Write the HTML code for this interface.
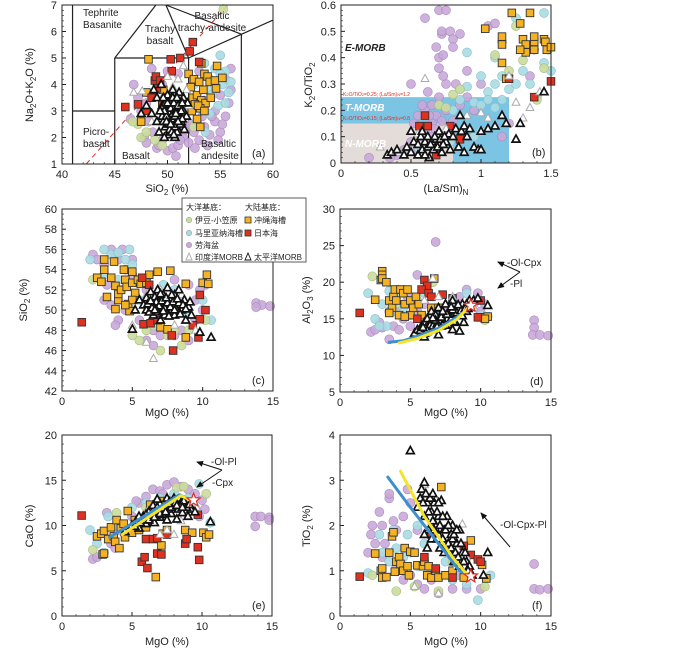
<!DOCTYPE html>
<html><head><meta charset="utf-8"><style>
html,body{margin:0;padding:0;background:#fff;}
svg{display:block;font-family:"Liberation Sans","Noto Sans CJK SC",sans-serif;}
</style></head><body>
<svg id="chart" width="700" height="655" viewBox="0 0 700 655" xmlns="http://www.w3.org/2000/svg"></svg>
<script>
// ---------- DATA ----------
const aPurple=[[46.5,2.7],[46.8,4.0],[47.5,3.0],[47.8,2.0],[48,1.8],[48.5,4.6],[48.6,2.2],[49,1.6],[49.5,1.9],[49,4.2],[50,1.5],[50.5,1.6],[51,1.7],[51.5,2.0],[52,1.8],[52.5,2.2],[53,1.9],[53.5,2.4],[54,2.1],[54.5,2.6],[55,2.2],[55.5,2.8],[55.8,3.3],[55.5,4.2],[56,4.6],[54.5,3.0],[53.5,3.4],[52,3.0],[51,4.4],[50,4.5],[49.5,4.0],[53,4.5],[54.2,2.8],[52.8,2.6],[51.7,2.3],[47.2,3.5],[48,3.3],[56,3.8],[55,3.6],[53.8,1.7],[50.8,1.3],[52.6,1.6],[54.8,1.9],[48.2,2.6],[49.2,1.7],[51.2,1.9],[52.2,2.5],[53.3,2.8],[55.2,2.5]];
const aCyan=[[53.5,4.8],[54.5,4.6],[55,5.1],[55.5,4.5],[54,4.2],[55.2,4.0],[55.8,3.7],[53.8,3.8],[54.8,3.2],[53,3.3],[52.5,4.0],[55.5,3.3],[56,4.1],[54,2.9],[52.8,2.5],[53.6,2.2],[54.2,3.6],[55,4.4]];
const aGreen=[[47.5,2.0],[48,2.2],[48.8,1.9],[49.5,1.7],[47.2,2.5],[52.5,2.4],[55.3,6.85],[46.7,2.6]];
const aOrange=[[48.2,4.95],[52,4.4],[52.2,3.9],[52.5,4.2],[53,4.1],[53.5,4.4],[53.2,4.8],[53.8,4.3],[54,4.1],[54.5,4.15],[54.7,4.7],[55.2,4.25],[54.6,3.85],[52.4,3.5],[52.8,3.6],[53.2,3.4],[53.4,3.8],[53.6,3.3],[54.1,3.5],[52.3,3.0],[52.6,3.25],[53.1,3.1],[53.1,2.4],[52.9,3.2],[53.5,3.0],[47.5,2.6],[48,3.7],[49.6,3.8],[52.8,2.7]];
const aRed=[[46,3.15],[47.2,3.25],[48,3.0],[48.5,3.5],[49,3.85],[48.8,4.15],[48.9,4.3],[50.4,4.5],[50.3,4.95],[51.2,5.0],[52.1,5.25],[52.4,5.6],[53,4.85],[49.3,4.15],[49.5,3.3]];
const aGreyTri=[[46.8,3.7],[47.6,3.75],[50,4.3],[51.5,4.7],[51,4.2],[49.5,3.5],[51.8,3.8],[52,3.2],[50.5,3.9],[48.5,2.6]];
const aBlackTri=[[47.5,2.9],[48,3.2],[48.5,2.9],[49,3.5],[49,2.6],[49.5,3.2],[49.5,2.8],[49.8,2.4],[50,3.6],[50,3.0],[50,2.6],[50.2,3.3],[50.3,2.8],[50.5,2.4],[50.5,3.8],[50.6,3.1],[50.8,2.7],[50.8,3.4],[51,2.9],[51,2.3],[51.2,3.2],[51.3,2.6],[51.5,3.0],[51.5,3.5],[51.8,2.8],[51.6,2.3],[49.2,2.2],[50.1,2.1],[50.7,2.0],[48.7,3.8],[49.4,4.0],[51.9,3.3],[50.4,3.5],[49.7,2.0],[50.9,2.2],[51.1,3.7],[50.2,2.9],[50.6,2.6],[50.9,3.0],[49.8,3.3],
 [49.6,2.6],[49.9,2.8],[50.1,2.5],[50.3,3.1],[50.4,2.7],[50.5,2.9],[50.6,3.3],[50.7,2.4],[50.8,3.0],[50.9,2.6],[51.0,3.2],[51.1,2.8],[51.2,2.5],[51.3,3.0],[51.4,2.7],[50.0,3.3],[50.2,2.3],[50.5,3.5],[50.7,2.8],[50.9,3.5],[49.7,3.0],[49.9,2.6],[50.4,2.2],[50.6,2.1],[51.0,2.6],[51.4,3.3],[49.3,3.0],[49.6,3.5],[50.3,2.5],[50.8,2.9]];

const bPurple=[[0.2,0.02],[0.5,0.3],[0.6,0.55],[0.65,0.1],[0.7,0.58],[0.72,0.49],[0.75,0.58],[0.72,0.5],[0.68,0.44],[0.7,0.4],[0.73,0.41],[0.7,0.36],[0.78,0.5],[0.8,0.47],[0.8,0.44],[0.85,0.49],[0.75,0.3],[0.6,0.2],[0.55,0.18],[0.52,0.15],[0.6,0.12],[0.65,0.22],[0.7,0.25],[0.5,0.08],[0.45,0.05],[0.4,0.03],[0.55,0.05],[0.65,0.15],[0.68,0.18],[0.75,0.2],[0.8,0.16],[0.85,0.22],[0.9,0.25],[0.78,0.12],[0.95,0.2],[1.0,0.3],[1.05,0.52],[1.1,0.53],[1.35,0.33],[1.38,0.43],[1.15,0.1],[1.2,0.15],[0.6,0.09],[0.7,0.06],[0.35,0.02],[0.62,0.27],[0.82,0.3],[0.9,0.35],[0.73,0.33],[0.58,0.22],[0.63,0.18],[0.67,0.13],[0.72,0.16]];
const bCyan=[[0.9,0.42],[1.45,0.57],[1.1,0.4],[1.0,0.33],[1.05,0.27],[1.1,0.3],[1.15,0.33],[1.2,0.28],[1.25,0.3],[1.3,0.35],[1.35,0.3],[1.4,0.25],[1.45,0.38],[1.5,0.35],[0.85,0.24],[0.95,0.23],[1.0,0.22],[1.05,0.24],[1.1,0.21],[1.15,0.24],[0.85,0.28],[0.9,0.29],[0.95,0.1],[1.0,0.12],[0.8,0.2],[0.78,0.08],[0.55,0.06],[1.25,0.55],[1.48,0.43]];
const bGreen=[[0.7,0.22],[0.75,0.21],[0.8,0.26],[0.85,0.28],[1.1,0.41],[1.15,0.46],[1.2,0.35],[1.25,0.52],[1.3,0.39],[1.4,0.24],[1.45,0.36]];
const bOrange=[[1.03,0.51],[1.15,0.45],[1.15,0.48],[1.15,0.38],[1.18,0.32],[1.22,0.57],[1.28,0.53],[1.3,0.47],[1.3,0.43],[1.32,0.42],[1.32,0.45],[1.35,0.57],[1.38,0.46],[1.38,0.48],[1.38,0.43],[1.45,0.47],[1.46,0.46],[1.47,0.43],[1.5,0.44],[1.28,0.43]];
const bRed=[[0.56,0.14],[0.62,0.14],[0.78,0.14],[0.85,0.09],[1.2,0.32],[1.38,0.25],[1.5,0.31],[0.68,0.03],[0.6,0.18]];
const bGreyTri=[[0.28,0.06],[0.6,0.32],[0.75,0.13],[0.9,0.18],[1.0,0.19],[1.05,0.17],[1.2,0.33],[1.25,0.23],[1.3,0.17],[1.35,0.21],[1.42,0.27],[0.42,0.04],[0.55,0.11]];
const bBlackTri=[[0.33,0.03],[0.36,0.04],[0.4,0.05],[0.45,0.03],[0.47,0.06],[0.5,0.04],[0.5,0.12],[0.52,0.08],[0.55,0.07],[0.55,0.03],[0.57,0.1],[0.58,0.05],[0.6,0.08],[0.62,0.06],[0.62,0.1],[0.63,0.02],[0.65,0.08],[0.66,0.05],[0.68,0.09],[0.7,0.07],[0.72,0.1],[0.72,0.04],[0.75,0.08],[0.77,0.11],[0.78,0.05],[0.8,0.1],[0.82,0.13],[0.84,0.06],[0.86,0.12],[0.88,0.14],[0.9,0.1],[0.92,0.13],[0.95,0.06],[0.98,0.05],[1.0,0.05],[1.0,0.12],[1.05,0.13],[1.1,0.14],[1.15,0.18],[1.18,0.15],[1.25,0.09],[1.28,0.15],[1.45,0.27],[0.85,0.18],[0.88,0.04],[0.58,0.12],[0.6,0.03],[0.7,0.12],[0.64,0.07],[0.67,0.1],[0.69,0.06],[0.71,0.09],[0.73,0.07],[0.74,0.1]];

const cPurple=[[2.2,55.5],[2.5,55],[3,54.5],[3.5,56],[3.8,55.5],[4,55],[4.5,54],[5,53.5],[5.5,53],[6,52],[3,51],[3.5,50.5],[4,49],[3.8,48.5],[4.5,50],[6,47],[6.5,48],[7,47.5],[7.5,48],[8,47.5],[8.5,48],[9,47],[9.5,49],[10,50],[10.2,52.5],[9.8,52],[13.8,50.7],[14.2,50.5],[14.8,50.4],[13.8,50.3],[6.5,46.5],[8,53],[9,52.5],[5,55],[4.3,56],[2.8,53],[3.2,52.5],[5.5,49],[9.5,51]];
const cCyan=[[2,55],[3,56],[3.5,55.5],[4,55.7],[4.5,55],[4.8,56],[5,54.5],[3,53.5],[4,53],[5.5,51],[6,53],[7,51],[8,52],[10,51],[10.6,49],[7.2,52.5],[6.5,49],[9,49.5],[5,50],[4.2,52]];
const cGreen=[[2.2,53],[5,47.5],[5.5,47],[6,48],[7,46],[7.5,47.5],[8,48],[8.5,46.5],[9,48],[10.2,49],[6.5,48.5]];
const cOrange=[[2.5,53.2],[2.8,52.8],[3,55],[3,54],[3.2,51.3],[3.5,53.2],[3.7,54.8],[3.8,52.4],[3.8,50.1],[4,51],[4,51.6],[4.2,52],[4.4,54],[4.5,53],[4.6,52.3],[4.7,50.6],[4.8,49.9],[5,53.8],[5,52.7],[5.2,51.7],[5.4,53],[5.6,52.6],[6,52.7],[6.2,53.5],[6.8,53.8],[7.7,53.9],[8.8,52.6],[10,52.7],[10.3,53.5],[10.4,52.6],[7,48.3],[7.5,48.1],[8.8,47.3],[5,51],[4.5,50.5]];
const cRed=[[1.4,48.8],[5.7,53.2],[6.2,52.5],[5.8,48.6],[6.3,48.7],[7.8,47.5],[7.9,46],[9.7,47.3],[9.8,51.5],[10.2,50],[9.8,49.1],[6.8,49],[9.3,48.5]];
const cGreyTri=[[6,46.8],[6.5,45.2],[8,48.5],[9,49],[9.5,48],[5,48.5],[7,52],[8.5,51.5],[6,51.5]];
const cBlackTri=[[5.5,51],[5.8,50.5],[6,51.2],[6,50],[6.3,51.8],[6.5,50.5],[6.5,49.5],[6.8,51],[6.8,52],[7,50.2],[7,49],[7.2,51.5],[7.3,50.8],[7.5,49.8],[7.5,52.2],[7.7,51],[7.8,50],[8,51.5],[8,49.5],[8.2,50.5],[8.5,50],[8.7,51],[8.8,49],[9,50.3],[9.2,49.5],[7.3,49.5],[6.2,49.8],[5.2,50],[5,48.1],[10.6,47.3],[9.8,47.8],[8.3,52],[7.6,50.6],[6.6,51.3],[7.1,50],
 [6.1,50.6],[6.4,50.2],[6.7,50.8],[6.9,50.4],[7.1,50.9],[7.3,50.2],[7.5,50.7],[7.7,50.3],[7.9,50.8],[8.1,50.1],[8.3,50.7],[8.6,50.5],[6.8,49.8],[7.2,49.9],[7.6,49.4],[8.0,50.0],[8.4,49.6],[6.6,50.0],[7.4,51.2],[7.8,51.5],[8.2,51.1],[6.3,50.9],[7.0,51.6],[8.8,50.1],[9.1,50.8]];

const dPurple=[[2.2,13.2],[2.5,13.5],[3,13.8],[3.5,12.2],[3.8,14],[4,16],[4.5,15],[5,14],[5.5,21],[6.8,25.5],[7,15.5],[6,17],[7.5,16],[8,17],[8.5,18],[9,19],[9.5,17],[10,16],[10.3,17],[13.8,14.8],[13.8,13.8],[13.7,12.8],[14.2,12.8],[14.8,12.7],[3.5,16],[4.2,13.5],[2.8,14.5],[4.8,18],[9.8,18.5],[6.3,13.2],[5.5,16]];
const dCyan=[[2,18.5],[2.5,15],[3,17],[3.3,14],[3.8,16],[4,18],[4.5,16.5],[5,15.5],[5.5,17.5],[6,18.5],[7,16.5],[8,17.5],[9,18.5],[10,15.5],[10.5,15.3],[2.8,14],[3.5,18.8],[6.5,15]];
const dGreen=[[2.3,20.8],[6.6,20],[10.3,14.8],[4,17]];
const dOrange=[[2.5,17.6],[2.9,20.3],[3,21.5],[3,21],[3,20.5],[3.3,20],[3.5,17.5],[3.7,16.5],[3.8,18],[3.9,19],[4,17.5],[4.2,15.5],[4.3,19],[4.5,18.5],[4.6,17],[4.8,19],[5,17.5],[5,15.5],[5.2,16.5],[5.4,18],[5.6,17],[5.8,15.5],[6.7,20.5],[6.5,16.5],[7,16.5],[10,15.2],[10.5,15.3],[10.3,15],[3.5,15.8],[4.6,15.3]];
const dRed=[[1.4,15.8],[6,20.3],[6.2,19.5],[5.8,19],[6.3,18.5],[7.3,18.3],[8,17.8],[9.8,15.2],[10,17.5],[6.5,18],[5.5,15]];
const dGreyTri=[[6.6,20.5],[7,18],[8,18],[9.5,16.5],[8.5,16],[6,17.5]];
const dBlackTri=[[5.3,13],[5.5,13.5],[5.8,14],[6,13],[6,14.5],[6.2,15],[6.3,13.8],[6.5,14.5],[6.5,16],[6.7,13.5],[6.8,15.5],[7,14.8],[7,16.5],[7.2,14],[7.3,15.5],[7.5,15],[7.5,17],[7.7,14.2],[7.8,16],[8,15.3],[8,17.5],[8.2,14.5],[8.4,16.5],[8.5,15.5],[8.7,17],[8.8,14.5],[9,16],[9.2,17.5],[9.5,17.5],[9.8,17.8],[10.5,16.8],[7,12.8],[6,12.5],[8,13.5],[8.5,13.3],[9,17],
 [5.7,13.4],[6.1,13.7],[6.4,14.1],[6.6,14.0],[6.9,14.3],[7.1,14.5],[7.4,14.6],[7.6,14.9],[7.9,15.0],[8.1,15.6],[8.3,15.8],[8.6,16.1],[8.9,16.4],[6.8,14.8],[7.2,15.2],[7.6,15.6],[8.0,16.2],[8.4,16.9],[6.2,13.4],[6.9,13.9],[7.5,14.1],[8.1,14.6],[8.7,15.4],[9.1,16.4],[5.9,13.8],[6.6,15.1],[7.3,16.0],[7.9,16.6]];
const dBlueLine=[[3.5,11.8],[4.5,12.0],[5.5,12.6],[7,13.7],[8.3,15.2],[9.2,16.5]];
const dYellowLine=[[4.2,11.7],[5.5,12.3],[7,13.4],[8.3,14.9],[9.2,16.7]];
const dStar=[[9.3,16.8]];

const ePurple=[[2.2,6.3],[2.5,6.5],[3,7],[3.5,8],[4,9.5],[5,11],[5.5,12.5],[6,13.2],[6.5,14],[7,13.8],[7.5,14.5],[8,14.8],[8.5,14.3],[9,14],[9.5,13.5],[10,12.8],[10.2,11.8],[9.8,11],[13.8,11],[13.8,9.9],[14.2,11],[14.8,10.9],[14.8,10.6],[3.2,11.4],[5.3,12.7],[7.2,13.5],[3.8,7.5],[2.9,9.2]];
const eCyan=[[2,9.5],[2.5,8],[3,7],[3.3,11],[4,10],[5,12],[6,12.5],[7,13],[8,13.5],[9,13],[9.8,14.6],[10.6,10.3],[9.5,12],[3.5,8.5],[4.5,9],[8.5,12.3]];
const eGreen=[[2.2,7.3],[3.9,11.4],[6,12],[8.2,14.2],[8.7,14.3],[10.3,13.5],[7,12.5]];
const eOrange=[[2.5,8.8],[2.8,9.1],[2.9,6.8],[3,6.9],[3,9.4],[3.3,8.5],[3.5,9.8],[3.7,8.8],[3.8,8.2],[3.9,10.6],[4.1,7.5],[4.2,9.7],[4.4,10.2],[4.5,8.7],[4.7,11.6],[5,9.2],[5.2,10.6],[5.5,9.5],[6.3,12.3],[6.5,11.7],[6.7,4.3],[7.1,7.8],[7,12.7],[7.2,9.1],[7.5,9.5],[8.8,9.5],[9.3,9.2],[10.1,9.2],[10.3,8.7],[10.5,9],[6,9.8]];
const eRed=[[1.4,11.1],[5.7,6],[5.9,6.5],[6.1,5.3],[6,8.5],[6.5,8.5],[6.8,6.9],[7.1,6.8],[6.8,8.6],[8.8,8],[8.9,8.5],[9.7,7.6],[9.8,6.2],[9.7,11.2],[7.5,9]];
const eGreyTri=[[7,9],[7.5,9.5],[8,9],[8.5,10.5],[9,11],[6,11.5],[6.5,12],[9.6,12]];
const eBlackTri=[[5,10],[5.3,10.5],[5.5,9.7],[5.8,11],[6,10.2],[6.2,11.5],[6.3,10.8],[6.5,12.2],[6.6,10.3],[6.8,11.6],[7,12.4],[7,10.9],[7.2,11.2],[7.4,12.1],[7.5,10.6],[7.7,12.6],[7.8,11.3],[8,12],[8,13],[8.2,10.7],[8.3,11.8],[8.5,12.5],[8.6,11.4],[8.8,12.2],[9,11],[9.2,11.8],[9.5,11.5],[10.6,10.4],[6.8,12.9],[7.5,13],[5.5,11],[4.5,9.3],
 [5.2,9.9],[5.6,10.3],[5.9,10.6],[6.1,10.9],[6.4,11.2],[6.7,11.1],[6.9,11.4],[7.1,11.7],[7.3,11.9],[7.6,11.8],[7.9,12.3],[8.1,12.5],[8.4,12.2],[8.7,12.7],[8.9,12.0],[6.2,10.6],[6.6,10.9],[7.0,11.3],[7.4,11.5],[7.8,12.0],[8.2,12.2],[8.6,12.0],[9.1,12.3],[6.0,11.2],[6.8,12.0],[7.6,12.4]];
const eBlueLine=[[3.4,8.7],[8.4,13.4],[9.2,12.8]];
const eYellowLine=[[4.3,9.0],[8.5,13.3],[9.3,12.7]];
const eStar=[[9.4,12.8]];

const fPurple=[[2.2,1.8],[2.3,2],[2.5,1.6],[2.8,2.3],[3,2.0],[3.5,2.6],[3.5,2.7],[3.8,2.1],[4,1.9],[4.5,2.2],[4.8,2.8],[5,2.5],[5.5,1.9],[3,1.3],[4,1.1],[5,0.9],[5.5,0.7],[6,0.6],[7,0.5],[8,0.6],[9,0.6],[10,0.6],[13.8,1.15],[13.8,0.6],[14.2,0.58],[14.8,0.6],[4.5,0.8],[6.5,0.8],[8.5,0.9],[3.2,1.6],[2,1.4]];
const fCyan=[[2,0.95],[2.8,1.8],[3,1.4],[3.5,1.2],[4,1.5],[4.5,1.3],[5,1.4],[5.5,1.1],[6,1.2],[6.5,1.0],[7,0.9],[8,0.8],[9,0.7],[9.8,0.35],[10.7,0.9],[4.8,1.8],[3.8,1.9],[6,1.6],[7.5,1.2],[5.5,2.0]];
const fGreen=[[2.3,0.9],[4,0.55],[5.3,0.65],[10.3,0.65],[7,0.55],[8,1.2]];
const fOrange=[[2.5,1.38],[2.9,1.0],[3,1.05],[3,0.85],[3.3,0.86],[3.5,1.4],[3.7,1.76],[3.8,1.85],[3.9,0.98],[4,1.2],[4.2,1.3],[4.3,1.15],[4.5,1.0],[4.6,1.5],[4.8,1.1],[4.9,0.9],[5,1.42],[5.3,1.4],[5.5,1.12],[5.9,1.1],[6,1.2],[6.2,0.9],[6.5,0.85],[6.8,1.0],[7,0.85],[7.2,2.85],[7.5,0.9],[8,1.0],[8.8,0.85],[9.3,1.67],[10.1,1.13],[10.4,0.83],[6.3,1.1]];
const fRed=[[1.4,0.87],[6,1.3],[6.5,1.8],[7.5,1.5],[8,0.85],[8.8,1.55],[9.3,1.35],[9.8,1.25],[10,1.2],[6.8,1.05]];
const fGreyTri=[[5.3,0.65],[6,2.9],[7,0.5],[8.7,2.03],[9,1.3],[5.8,2.6],[8.3,1.1]];
const fBlackTri=[[5,3.65],[5.5,2.4],[5.7,2.6],[5.8,2.8],[6,2.95],[6,2.2],[6.2,2.5],[6.3,1.9],[6.5,2.3],[6.5,1.7],[6.7,2.5],[6.8,2.0],[7,1.8],[7,2.2],[7.1,1.5],[7.2,2.55],[7.4,1.9],[7.5,1.6],[7.6,2.2],[7.8,1.4],[7.9,1.8],[8,2.0],[8.1,1.2],[8.3,1.6],[8.5,1.9],[8.5,1.1],[8.7,1.4],[9,1.2],[9.2,1.1],[6.2,1.5],[6,1.8],[10.5,1.4],[8,1.7],[9.4,0.9],[10.2,0.9],
 [5.9,2.5],[6.1,2.7],[6.3,2.3],[6.4,2.6],[6.6,2.1],[6.7,1.9],[6.9,2.3],[7.1,2.0],[7.3,1.7],[7.3,2.2],[7.5,1.9],[7.7,1.6],[7.7,2.0],[7.9,1.5],[8.1,1.8],[8.2,1.4],[8.4,1.3],[8.6,1.6],[8.8,1.2],[8.9,1.4],[9.1,1.0],[6.9,1.7],[7.4,1.4],[6.6,2.7],[7.0,2.5],[8.3,1.9]];
const fBlueLine=[[3.4,3.07],[5,2.4],[7,1.6],[8.5,1.0],[9,0.92]];
const fYellowLine=[[4.3,3.2],[6,2.2],[8,1.3],[9,0.93]];
const fStar=[[9.3,0.88]];

const xTicksA=[40,45,50,55,60], yTicksA=[1,2,3,4,5,6,7];
const xTicksB=[0,0.5,1,1.5], yTicksB=[0,0.1,0.2,0.3,0.4,0.5,0.6];
const xTicksMg=[0,5,10,15];
const yTicksC=[42,44,46,48,50,52,54,56,58,60];
const yTicksD=[5,10,15,20,25,30];
const yTicksE=[0,5,10,15,20];
const yTicksF=[0,1,2,3,4];

// ---------- RENDER ----------
const NS='http://www.w3.org/2000/svg';
const svg=document.getElementById('chart');
function mk(tag,attrs,parent){const e=document.createElementNS(NS,tag);for(const k in attrs)e.setAttribute(k,attrs[k]);(parent||svg).appendChild(e);return e;}
function axis(p){return {x:v=>p.px0+(v-p.xmin)/(p.xmax-p.xmin)*(p.px1-p.px0), y:v=>p.py0-(v-p.ymin)/(p.ymax-p.ymin)*(p.py0-p.py1)};}

const panels={
 a:{px0:62,px1:273,py0:164,py1:5,xmin:40,xmax:60,ymin:1,ymax:7,xt:xTicksA,yt:yTicksA,xminor:1,yminor:0.2},
 b:{px0:341,px1:551,py0:163,py1:5,xmin:0,xmax:1.5,ymin:0,ymax:0.6,xt:xTicksB,yt:yTicksB,xminor:0.1,yminor:0.02},
 c:{px0:62,px1:273,py0:391,py1:209,xmin:0,xmax:15,ymin:42,ymax:60,xt:xTicksMg,yt:yTicksC,xminor:1,yminor:0.5},
 d:{px0:340,px1:551,py0:392,py1:209,xmin:0,xmax:15,ymin:5,ymax:30,xt:xTicksMg,yt:yTicksD,xminor:1,yminor:1},
 e:{px0:62,px1:272,py0:616,py1:435,xmin:0,xmax:15,ymin:0,ymax:20,xt:xTicksMg,yt:yTicksE,xminor:1,yminor:1},
 f:{px0:340,px1:551,py0:616,py1:435,xmin:0,xmax:15,ymin:0,ymax:4,xt:xTicksMg,yt:yTicksF,xminor:1,yminor:0.2}
};

function drawFrame(key){
 const p=panels[key],A=axis(p);
 const g=mk('g',{});
 
 
 mk('rect',{x:p.px0,y:p.py1,width:p.px1-p.px0,height:p.py0-p.py1,fill:'none',stroke:'#222','stroke-width':1},g);
 for(let v=p.ymin;v<=p.ymax+1e-9;v+=p.yminor){mk('line',{x1:p.px0,x2:p.px0+2,y1:A.y(v),y2:A.y(v),stroke:'#222','stroke-width':0.6},g);}
 for(let v=p.xmin;v<=p.xmax+1e-9;v+=p.xminor){mk('line',{x1:A.x(v),x2:A.x(v),y1:p.py0,y2:p.py0-2,stroke:'#222','stroke-width':0.6},g);}
 p.yt.forEach(v=>{mk('line',{x1:p.px0,x2:p.px0+4,y1:A.y(v),y2:A.y(v),stroke:'#222'},g);
  const t=mk('text',{x:p.px0-5,y:A.y(v)+4,'text-anchor':'end','font-size':11,fill:'#222'},g);t.textContent=String(v);});
 p.xt.forEach(v=>{mk('line',{x1:A.x(v),x2:A.x(v),y1:p.py0,y2:p.py0-4,stroke:'#222'},g);
  const t=mk('text',{x:A.x(v),y:p.py0+14,'text-anchor':'middle','font-size':11,fill:'#222'},g);t.textContent=String(v);});
}

function drawCircles(key,data,fill,stroke,name){
 const A=axis(panels[key]);
 data.forEach(d=>{const c=mk('circle',{cx:A.x(d[0]),cy:A.y(d[1]),r:4.5,fill:fill,stroke:stroke,'stroke-width':0.6,'fill-opacity':0.9});
  
  });
}
function drawSquares(key,data,fill,name){
 const A=axis(panels[key]);
 data.forEach(d=>{const r=mk('rect',{x:A.x(d[0])-3.8,y:A.y(d[1])-3.8,width:7.6,height:7.6,fill:fill,stroke:'#333','stroke-width':0.9});
  
  });
}
function drawTris(key,data,stroke,name,sw){
 const A=axis(panels[key]);
 data.forEach(d=>{const x=A.x(d[0]),y=A.y(d[1]);
  const t=mk('polygon',{points:`${x},${y-4.3} ${x-3.9},${y+2.8} ${x+3.9},${y+2.8}`,fill:'#fff',stroke:stroke,'stroke-width':sw});
  
  });
}
function drawLine(key,data,color,name){
 const A=axis(panels[key]);
 const pl=mk('polyline',{points:data.map(d=>A.x(d[0])+','+A.y(d[1])).join(' '),fill:'none',stroke:color,'stroke-width':3,'stroke-linejoin':'round','stroke-linecap':'round'});
 
 
}
function drawStar(key,data){
 const A=axis(panels[key]);
 data.forEach(d=>{const cx=A.x(d[0]),cy=A.y(d[1]);let pts=[];
  for(let i=0;i<10;i++){const r=i%2?3:7,a=-Math.PI/2+i*Math.PI/5;pts.push((cx+r*Math.cos(a))+','+(cy+r*Math.sin(a)));}
  const s=mk('polygon',{points:pts.join(' '),fill:'#fff',stroke:'#e02a20','stroke-width':1.2});
  
  });
}
function series(key,P,C,G,O,R,GT,BT){
 drawCircles(key,P,'#c9a9d8','#a98bbd','purple-lau-basin-point');
 drawCircles(key,C,'#aadbe2','#86c0cc','cyan-mariana-point');
 drawCircles(key,G,'#cbdc9f','#a9bd7c','green-izu-bonin-point');
 drawSquares(key,O,'#f5b324','okinawa-trough-point');
 drawSquares(key,R,'#e03020','japan-sea-point');
 drawTris(key,GT,'#aaa','indian-morb-point',1);
 drawTris(key,BT,'#111','pacific-morb-point',1.7);
}
function txt(x,y,s,size,opts){const t=mk('text',Object.assign({x:x,y:y,'font-size':size||10,fill:'#222'},opts||{}));t.innerHTML=s;return t;}
function nm(el,n){return el;}

// Panel b background fields
(function(){const p=panels.b,A=axis(p);
 nm(mk('rect',{x:A.x(0),y:A.y(0.25),width:A.x(1.2)-A.x(0),height:A.y(0)-A.y(0.25),fill:'#7cc4e4'}),'t-morb-field');
 nm(mk('rect',{x:A.x(0),y:A.y(0.15),width:A.x(0.8)-A.x(0),height:A.y(0)-A.y(0.15),fill:'#e3dcd8'}),'n-morb-field');
})();

// Panel a TAS lines
(function(){const A=axis(panels.a);
 const segs=[[[41,1],[41,7]],[[41,3],[45,3]],[[45,1],[45,5]],[[45,5],[52,5]],[[52,1],[52,5]],[[57,1],[57,5.9]],[[52,5],[60,6.43]],[[45,5],[48.9,7]],[[52,5],[49.85,7]],[[49.85,7],[57,5.9]]];
 segs.forEach(s=>nm(mk('line',{x1:A.x(s[0][0]),y1:A.y(s[0][1]),x2:A.x(s[1][0]),y2:A.y(s[1][1]),stroke:'#222','stroke-width':1.2}),'tas-boundary'));
 nm(mk('line',{x1:A.x(42.3),y1:A.y(1),x2:A.x(55.7),y2:A.y(7),stroke:'#e02a20','stroke-width':1,'stroke-dasharray':'5,4'}),'alkaline-divide-line');
})();

series('a',aPurple,aCyan,aGreen,aOrange,aRed,aGreyTri,aBlackTri);
series('b',bPurple,bCyan,bGreen,bOrange,bRed,bGreyTri,bBlackTri);
series('c',cPurple,cCyan,cGreen,cOrange,cRed,cGreyTri,cBlackTri);
series('d',dPurple,dCyan,dGreen,dOrange,dRed,dGreyTri,dBlackTri);
drawLine('d',dBlueLine,'#3d8fd0','fractionation-line-blue');drawLine('d',dYellowLine,'#f4e42a','fractionation-line-yellow');drawStar('d',dStar);
series('e',ePurple,eCyan,eGreen,eOrange,eRed,eGreyTri,eBlackTri);
drawLine('e',eBlueLine,'#3d8fd0','fractionation-line-blue');drawLine('e',eYellowLine,'#f4e42a','fractionation-line-yellow');drawStar('e',eStar);
series('f',fPurple,fCyan,fGreen,fOrange,fRed,fGreyTri,fBlackTri);
drawLine('f',fBlueLine,'#3d8fd0','fractionation-line-blue');drawLine('f',fYellowLine,'#f4e42a','fractionation-line-yellow');drawStar('f',fStar);

['a','b','c','d','e','f'].forEach(drawFrame);

// Panel a labels
nm(txt(83,16,'Tephrite',10),'label-tephrite');nm(txt(83,28,'Basanite',10),'label-basanite');
nm(txt(160,32,'Trachy',10,{'text-anchor':'middle'}),'label-trachy');nm(txt(160,44,'basalt',10,{'text-anchor':'middle'}),'label-trachybasalt');
nm(txt(212,19,'Basaltic',10,{'text-anchor':'middle'}),'label-basaltic');nm(txt(212,31,'trachy-andesite',10,{'text-anchor':'middle'}),'label-trachyandesite');
nm(txt(83,135,'Picro-',10),'label-picro');nm(txt(83,147,'basalt',10),'label-picrobasalt');
nm(txt(122,159,'Basalt',10),'label-basalt');
nm(txt(201,147,'Basaltic',10),'label-basaltic-andesite-1');nm(txt(201,159,'andesite',10),'label-basaltic-andesite-2');
// Panel b labels
nm(txt(345,51,'E-MORB',10,{'font-style':'italic','font-weight':'bold'}),'label-e-morb');
nm(txt(345,111,'T-MORB',10,{'font-style':'italic','font-weight':'bold',fill:'#fff'}),'label-t-morb');
nm(txt(345,147,'N-MORB',10,{'font-style':'italic','font-weight':'bold',fill:'#fff'}),'label-n-morb');
nm(txt(343,96,'K<tspan font-size="4">2</tspan>O/TiO<tspan font-size="4">2</tspan>=0.25; (La/Sm)<tspan font-size="4">N</tspan>=1.2',5,{fill:'#e02a20'}),'label-t-morb-criteria');
nm(txt(343,120,'K<tspan font-size="4">2</tspan>O/TiO<tspan font-size="4">2</tspan>=0.15; (La/Sm)<tspan font-size="4">N</tspan>=0.8',5,{fill:'#e02a20'}),'label-n-morb-criteria');

// panel letters
[['a',252,157],['b',532,156],['c',252,384],['d',530,385],['e',252,609],['f',532,609]].forEach(l=>nm(txt(l[1],l[2],'('+l[0]+')',11),'panel-label-'+l[0]));

// axis titles
nm(txt(167,192,'SiO<tspan font-size="8" dy="3">2</tspan><tspan dy="-3"> (%)</tspan>',11,{'text-anchor':'middle'}),'x-axis-title-a');
nm(txt(446,192,'(La/Sm)<tspan font-size="8" dy="3">N</tspan>',11,{'text-anchor':'middle'}),'x-axis-title-b');
nm(txt(167,416,'MgO (%)',11,{'text-anchor':'middle'}),'x-axis-title-c');
nm(txt(446,416,'MgO (%)',11,{'text-anchor':'middle'}),'x-axis-title-d');
nm(txt(167,645,'MgO (%)',11,{'text-anchor':'middle'}),'x-axis-title-e');
nm(txt(446,645,'MgO (%)',11,{'text-anchor':'middle'}),'x-axis-title-f');
function ytitle(x,y,s,n){const t=txt(0,0,s,11,{'text-anchor':'middle',transform:`translate(${x},${y}) rotate(-90)`});nm(t,n);}
ytitle(33,85,'Na<tspan font-size="8" dy="3">2</tspan><tspan dy="-3">O+K</tspan><tspan font-size="8" dy="3">2</tspan><tspan dy="-3">O (%)</tspan>','y-axis-title-a');
ytitle(312,85,'K<tspan font-size="8" dy="3">2</tspan><tspan dy="-3">O/TiO</tspan><tspan font-size="8" dy="3">2</tspan>','y-axis-title-b');
ytitle(27,300,'SiO<tspan font-size="8" dy="3">2</tspan><tspan dy="-3"> (%)</tspan>','y-axis-title-c');
ytitle(310,300,'Al<tspan font-size="8" dy="3">2</tspan><tspan dy="-3">O</tspan><tspan font-size="8" dy="3">3</tspan><tspan dy="-3"> (%)</tspan>','y-axis-title-d');
ytitle(33,526,'CaO (%)','y-axis-title-e');
ytitle(310,526,'TiO<tspan font-size="8" dy="3">2</tspan><tspan dy="-3"> (%)</tspan>','y-axis-title-f');

// arrows annotations
mk('defs',{}).innerHTML='<marker id="ah" markerWidth="8" markerHeight="8" refX="6" refY="4" orient="auto"><path d="M0,1 L7,4 L0,7 Z" fill="#111"/></marker>';
function arrow(x1,y1,x2,y2,n){nm(mk('line',{x1:x1,y1:y1,x2:x2,y2:y2,stroke:'#111','stroke-width':1,'marker-end':'url(#ah)'}),n);}
arrow(520,272,498,262,'arrow-ol-cpx');arrow(520,272,498,288,'arrow-pl');
nm(txt(507,266,'-Ol-Cpx',10),'label-ol-cpx');nm(txt(510,287,'-Pl',10),'label-pl');
arrow(222,470,197,462,'arrow-ol-pl');arrow(222,470,197,487,'arrow-cpx');
nm(txt(211,465,'-Ol-Pl',10),'label-ol-pl');nm(txt(212,486,'-Cpx',10),'label-cpx');
arrow(510,547,481,513,'arrow-ol-cpx-pl');
nm(txt(500,528,'-Ol-Cpx-Pl',10),'label-ol-cpx-pl');

// legend
(function(){const g=mk('g',{});nm(g,'legend');
 mk('rect',{x:182,y:198,width:124,height:64,fill:'#fff',stroke:'#333','stroke-width':0.8},g);
 const e=(x,y,shape,col,label,n)=>{const gg=mk('g',{},g);
  if(shape==='c')mk('circle',{cx:x+3,cy:y-3,r:2.8,fill:col,stroke:'#999','stroke-width':0.5},gg);
  if(shape==='s')mk('rect',{x:x,y:y-6,width:6,height:6,fill:col,stroke:'#333','stroke-width':0.8},gg);
  if(shape==='t')mk('polygon',{points:`${x+3},${y-7} ${x},${y} ${x+6},${y}`,fill:'#fff',stroke:col,'stroke-width':0.9},gg);
  const t=mk('text',{x:x+9,y:y,'font-size':8,fill:'#222'},gg);t.textContent=label;};
 const h1=mk('text',{x:186,y:210,'font-size':8,fill:'#222'},g);h1.textContent='大洋基底：';
 const h2=mk('text',{x:245,y:210,'font-size':8,fill:'#222'},g);h2.textContent='大陆基底：';
 e(186,223,'c','#cbdc9f','伊豆-小笠原','legend-izu-bonin');
 e(186,236,'c','#aadbe2','马里亚纳海槽','legend-mariana');
 e(186,248,'c','#c9a9d8','劳海盆','legend-lau-basin');
 e(186,260,'t','#aaa','印度洋MORB','legend-indian-morb');
 e(245,223,'s','#f5b324','冲绳海槽','legend-okinawa');
 e(245,236,'s','#e03020','日本海','legend-japan-sea');
 e(245,260,'t','#111','太平洋MORB','legend-pacific-morb');
})();
</script>
</body></html>
